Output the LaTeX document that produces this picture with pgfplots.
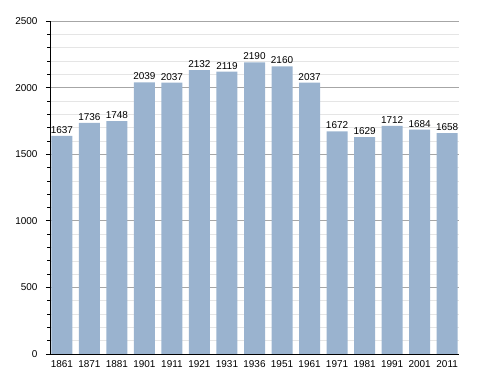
\documentclass[border=0pt]{standalone}
\usepackage{pgfplots}
\pgfplotsset{compat=1.18}
\usepackage{fontspec}
\setmainfont{Liberation Sans}
\definecolor{barblue}{RGB}{154,179,207}
\begin{document}
\begin{tikzpicture}
\path (0,0) rectangle (488bp,373bp);
\begin{axis}[
  at={(50bp,19bp)}, anchor=south west,
  scale only axis, width=409bp, height=333bp,
  xmin=-0.43, xmax=14.43, ymin=0, ymax=2500,
  axis lines*=left,
  axis line style={black, line width=0.8pt},
  xtick=data,
  xticklabels={1861,1871,1881,1901,1911,1921,1931,1936,1951,1961,1971,1981,1991,2001,2011},
  x tick style={draw=none},
  ytick={0,500,...,2500},
  minor y tick num=4,
  ymajorgrids, yminorgrids,
  major grid style={draw=black!35, line width=0.6pt},
  minor grid style={draw=black!10, line width=0.5pt},
  tick align=outside,
  major tick length=4bp, minor tick length=2.5bp,
  y tick style={black, line width=0.6pt},
  tick label style={font=\fontsize{10}{12}\selectfont},
  /pgf/number format/assume math mode=true,
  /pgf/number format/1000 sep={},
  xticklabel style={yshift=1bp},
  yticklabel style={xshift=-5bp},
  nodes near coords,
  every node near coord/.append style={font=\fontsize{10}{12}\selectfont, yshift=-1bp},
]
\addplot[ybar, bar width=21bp, fill=barblue, draw=none, bar shift=0pt] coordinates {
(0,1637) (1,1736) (2,1748) (3,2039) (4,2037) (5,2132) (6,2119) (7,2190)
(8,2160) (9,2037) (10,1672) (11,1629) (12,1712) (13,1684) (14,1658)};
\end{axis}
\end{tikzpicture}
\end{document}
